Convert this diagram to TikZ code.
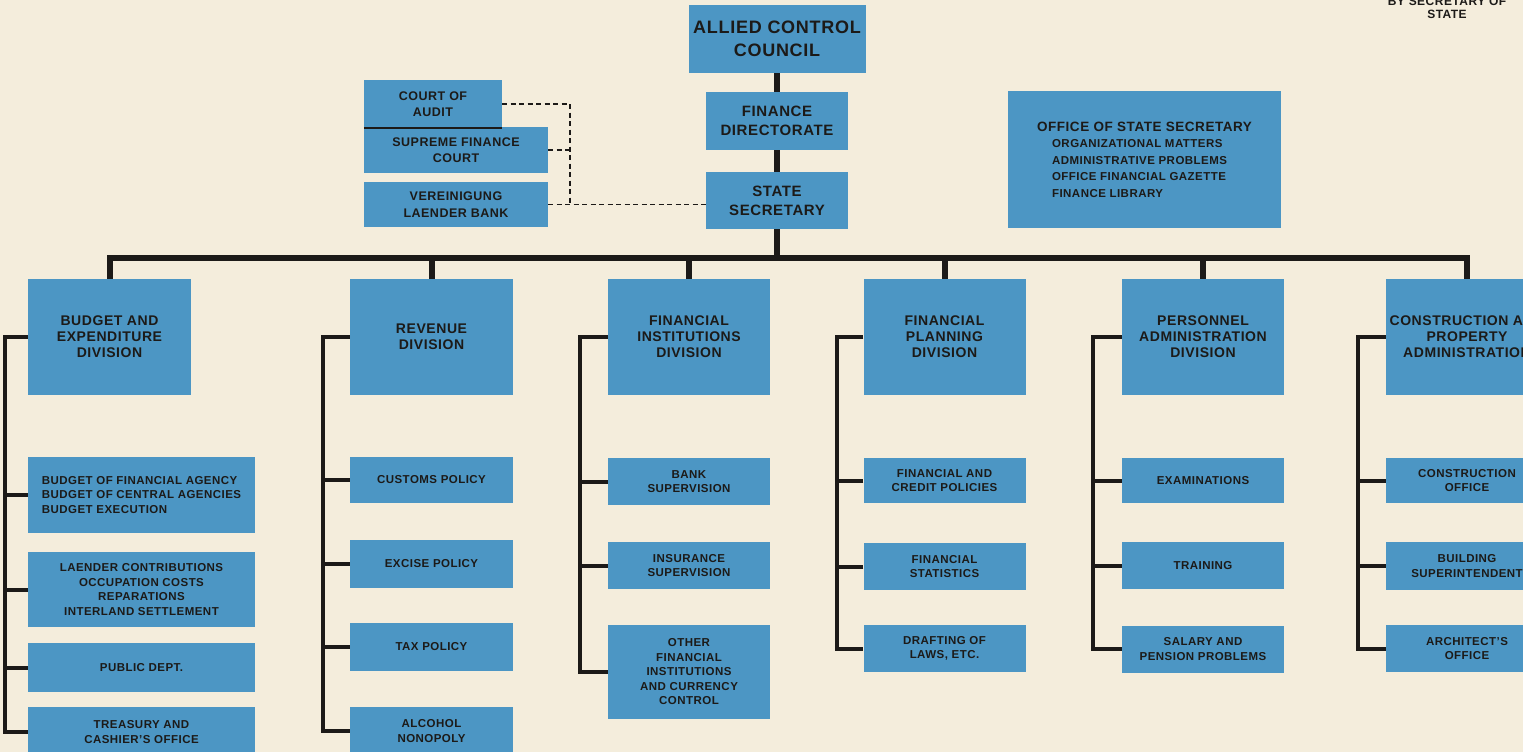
\documentclass[tikz,border=0pt]{standalone}
\usepackage{fontspec}
\setmainfont{Liberation Sans}[LetterSpace=4]
\usepackage{xcolor}
\definecolor{paper}{RGB}{244,237,220}
\definecolor{boxblue}{RGB}{76,150,196}
\definecolor{ink}{RGB}{28,26,24}

\begin{document}
\begin{tikzpicture}[x=1pt,y=-1pt]
    \tikzstyle{box}=[fill=boxblue, text=ink, inner sep=0pt, align=center]
    \tikzstyle{topbox}=[box, minimum width=142pt, minimum height=57pt, font=\bfseries\fontsize{15}{19}\selectfont]
    \tikzstyle{sidebox}=[box, minimum width=184pt, minimum height=46pt, font=\bfseries\fontsize{12.5}{16.5}\selectfont]
    \tikzstyle{divbox}=[box, minimum width=162pt, minimum height=116pt, font=\bfseries\fontsize{14}{16}\selectfont]
    \tikzstyle{subbox}=[box, minimum width=162pt, minimum height=47pt, font=\bfseries\fontsize{11.5}{14.5}\selectfont]
    \tikzstyle{busline}=[draw=ink, line width=6pt]
    \tikzstyle{branchline}=[draw=ink, line width=4pt]
    \tikzstyle{dashlink}=[draw=ink, line width=1.4pt, dash pattern=on 5pt off 3.5pt]

    \useasboundingbox (0,0) rectangle (1523,752);
    \fill[paper] (0,0) rectangle (1523,752);

    % top of the chart
    \node[topbox, minimum width=177pt, minimum height=68pt, font=\bfseries\fontsize{18}{23}\selectfont] (acc) at (777,39) {ALLIED CONTROL\\COUNCIL};
    \node[topbox, minimum height=58pt] (fd) at (777,121) {FINANCE\\DIRECTORATE};
    \node[topbox] (ss) at (777,200.5) {STATE\\SECRETARY};
    \coordinate (bus) at (777,258);

    \node[sidebox, minimum width=138pt, minimum height=48pt] (court) at (433,104) {COURT OF\\AUDIT};
    \node[sidebox] (supreme) at (456,150) {SUPREME FINANCE\\COURT};
    \node[sidebox, minimum height=45pt] (bank) at (456,204.5) {VEREINIGUNG\\LAENDER BANK};
    \draw[ink, line width=2pt] (court.south west) -- (court.south east);
    \coordinate (dj) at (570,205);

    \node[box, minimum width=273pt, minimum height=137pt, align=left, font=\bfseries\fontsize{11.5}{16.5}\selectfont] (office) at (1144.5,159.5)
        {{\fontsize{13.5}{16.5}\selectfont OFFICE OF STATE SECRETARY}\\
         \hspace*{15pt}ORGANIZATIONAL MATTERS\\
         \hspace*{15pt}ADMINISTRATIVE PROBLEMS\\
         \hspace*{15pt}OFFICE FINANCIAL GAZETTE\\
         \hspace*{15pt}FINANCE LIBRARY};

    \node[text=ink, align=center, inner sep=0pt, anchor=south, font=\bfseries\fontsize{12}{13}\selectfont] (bysec) at (1447,19) {BY SECRETARY OF\\STATE};

    \draw[busline] (acc.south) -- (fd.north);
    \draw[busline] (fd.south) -- (ss.north);
    \draw[busline] (ss.south) -- (bus);
    \draw[dashlink] (court.east) -| (dj);
    \draw[dashlink] (supreme.east) -- (supreme.east -| dj);
    \draw[dashlink] (bank.east) -- (bank.east -| ss.west);

    % divisions
    \node[divbox, minimum width=163pt] (budget) at (109.5,337) {BUDGET AND\\EXPENDITURE\\DIVISION};
    \node[divbox, minimum width=163pt] (revenue) at (431.5,337) {REVENUE\\DIVISION};
    \node[divbox] (fininst) at (689,337) {FINANCIAL\\INSTITUTIONS\\DIVISION};
    \node[divbox] (finplan) at (944.5,337) {FINANCIAL\\PLANNING\\DIVISION};
    \node[divbox] (personnel) at (1203,337) {PERSONNEL\\ADMINISTRATION\\DIVISION};
    \node[divbox] (constr) at (1467,337) {CONSTRUCTION AND\\PROPERTY\\ADMINISTRATION};

    \draw[busline] (budget.north) |- (bus);
    \draw[busline] (constr.north) |- (bus);
    \draw[busline] (revenue.north) -- (revenue.north |- bus);
    \draw[busline] (fininst.north) -- (fininst.north |- bus);
    \draw[busline] (finplan.north) -- (finplan.north |- bus);
    \draw[busline] (personnel.north) -- (personnel.north |- bus);

    % budget and expenditure
    \node[subbox, minimum width=227pt, minimum height=76pt, align=left] (bfa) at (141.5,495) {BUDGET OF FINANCIAL AGENCY\\BUDGET OF CENTRAL AGENCIES\\BUDGET EXECUTION};
    \node[subbox, minimum width=227pt, minimum height=75pt] (laender) at (141.5,589.5) {LAENDER CONTRIBUTIONS\\OCCUPATION COSTS\\REPARATIONS\\INTERLAND SETTLEMENT};
    \node[subbox, minimum width=227pt, minimum height=49pt] (public) at (141.5,667.5) {PUBLIC DEPT.};
    \node[subbox, minimum width=227pt, minimum height=50pt] (treasury) at (141.5,732) {TREASURY AND\\CASHIER'S OFFICE};
    \draw[branchline] (budget.west) -- ++(-23,0) |- (treasury.west);
    \draw[branchline] (bfa.west) -- ++(-23,0);
    \draw[branchline] (laender.west) -- ++(-23,0);
    \draw[branchline] (public.west) -- ++(-23,0);

    % revenue
    \node[subbox, minimum width=163pt, minimum height=46pt] (customs) at (431.5,480) {CUSTOMS POLICY};
    \node[subbox, minimum width=163pt, minimum height=48pt] (excise) at (431.5,564) {EXCISE POLICY};
    \node[subbox, minimum width=163pt, minimum height=48pt] (tax) at (431.5,647) {TAX POLICY};
    \node[subbox, minimum width=163pt, minimum height=48pt] (alcohol) at (431.5,731) {ALCOHOL\\NONOPOLY};
    \draw[branchline] (revenue.west) -- ++(-27,0) |- (alcohol.west);
    \draw[branchline] (customs.west) -- ++(-27,0);
    \draw[branchline] (excise.west) -- ++(-27,0);
    \draw[branchline] (tax.west) -- ++(-27,0);

    % financial institutions
    \node[subbox] (banksup) at (689,481.5) {BANK\\SUPERVISION};
    \node[subbox] (insurance) at (689,565.5) {INSURANCE\\SUPERVISION};
    \node[subbox, minimum height=94pt] (other) at (689,672) {OTHER\\FINANCIAL\\INSTITUTIONS\\AND CURRENCY\\CONTROL};
    \draw[branchline] (fininst.west) -- ++(-28,0) |- (other.west);
    \draw[branchline] (banksup.west) -- ++(-28,0);
    \draw[branchline] (insurance.west) -- ++(-28,0);

    % financial planning
    \node[subbox, minimum height=45pt] (credit) at (944.5,480.5) {FINANCIAL AND\\CREDIT POLICIES};
    \node[subbox] (stats) at (944.5,566.5) {FINANCIAL\\STATISTICS};
    \node[subbox] (drafting) at (944.5,648.5) {DRAFTING OF\\LAWS, ETC.};
    \draw[branchline] (finplan.west) -- ++(-26,0) |- (drafting.west);
    \draw[branchline] (credit.west) -- ++(-26,0);
    \draw[branchline] (stats.west) -- ++(-26,0);

    % personnel administration
    \node[subbox, minimum height=45pt] (exams) at (1203,480.5) {EXAMINATIONS};
    \node[subbox] (training) at (1203,565.5) {TRAINING};
    \node[subbox] (salary) at (1203,649) {SALARY AND\\PENSION PROBLEMS};
    \draw[branchline] (personnel.west) -- ++(-29,0) |- (salary.west);
    \draw[branchline] (exams.west) -- ++(-29,0);
    \draw[branchline] (training.west) -- ++(-29,0);

    % construction and property
    \node[subbox, minimum height=45pt] (constroff) at (1467,480.5) {CONSTRUCTION\\OFFICE};
    \node[subbox, minimum height=48pt] (building) at (1467,566) {BUILDING\\SUPERINTENDENT};
    \node[subbox] (architect) at (1467,648.5) {ARCHITECT'S\\OFFICE};
    \draw[branchline] (constr.west) -- ++(-28,0) |- (architect.west);
    \draw[branchline] (constroff.west) -- ++(-28,0);
    \draw[branchline] (building.west) -- ++(-28,0);
\end{tikzpicture}
\end{document}
